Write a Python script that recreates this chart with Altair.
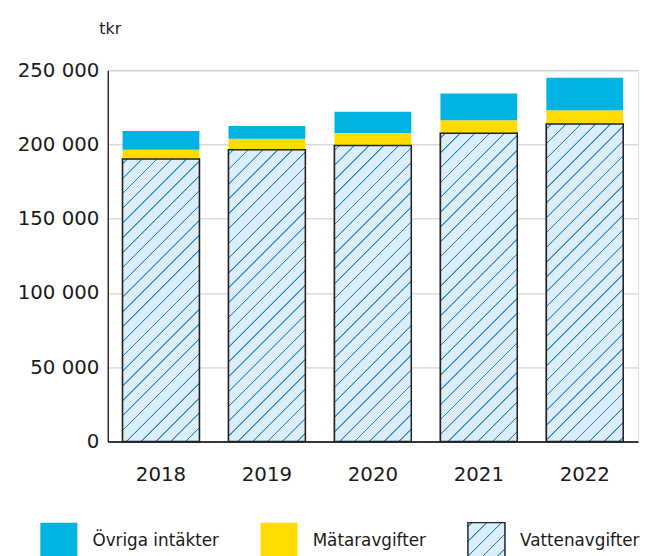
import json
import altair as alt
import pandas as pd

# ---- data ----
years = ["2018", "2019", "2020", "2021", "2022"]
vattenavgifter = [190300, 196500, 199300, 207600, 213800]
mataravgifter = [6200, 7300, 8500, 8800, 9300]
ovriga_intakter = [12600, 8600, 14300, 18000, 21900]
categories = ["Övriga intäkter", "Mätaravgifter", "Vattenavgifter"]
stack_order = ["Vattenavgifter", "Mätaravgifter", "Övriga intäkter"]
y_ticks = [0, 50000, 100000, 150000, 200000, 250000]
y_title = "tkr"

# ---- layout / style ----
W_PLOT = 537
H_PLOT = 376
Y_MAX = 250000
PAD_IN = 0.275
PAD_OUT = 0.14
BLUE = "#00b3e3"
YELLOW = "#ffdc00"
HATCH_BG = "#dbeef9"
HATCH_LINE = "#1f82c8"
EDGE = "#222222"
FONT = "DejaVu Sans"
TEXT = "#1a1a1a"

series = {
    "Vattenavgifter": vattenavgifter,
    "Mätaravgifter": mataravgifter,
    "Övriga intäkter": ovriga_intakter,
}
rows = []
for i, yr in enumerate(years):
    for k, cat in enumerate(stack_order):
        rows.append({"year": yr, "kategori": cat, "value": series[cat][i], "ordning": k})
df = pd.DataFrame(rows)


def hatch(w, h, spacing=15.0, phase=5.0, half=0.4, soft=0.6):
    """Diagonal '/' stripes as a sharp-stop linear gradient in bbox units."""
    tot = w + h
    r = tot / (w * w + h * h)
    stops = [{"offset": 0, "color": HATCH_BG}]
    c = phase
    while c < tot + spacing:
        for off, col in ((c - half - soft, HATCH_BG), (c - half, HATCH_LINE),
                         (c + half, HATCH_LINE), (c + half + soft, HATCH_BG)):
            o = min(max(off / tot, 0.0), 1.0)
            stops.append({"offset": round(o, 5), "color": col})
        c += spacing
    stops.append({"offset": 1, "color": HATCH_BG})
    return {"gradient": "linear", "x1": 0, "y1": 0,
            "x2": round(r * w, 5), "y2": round(r * h, 5), "stops": stops}


n = len(years)
step = W_PLOT / (n - PAD_IN + 2 * PAD_OUT)
bandwidth = step * (1 - PAD_IN)

conds = []
for i, yr in enumerate(years):
    h = vattenavgifter[i] / Y_MAX * H_PLOT
    conds.append({"test": f"datum.year === '{yr}'", "value": hatch(bandwidth, h)})

SYM = 37.5
legend_grad = hatch(SYM, SYM, phase=4.0)

x_enc = alt.X(
    "year:N",
    sort=years,
    scale=alt.Scale(paddingInner=PAD_IN, paddingOuter=PAD_OUT),
    axis=alt.Axis(title=None, labelAngle=0, ticks=False, grid=False,
                  domainColor="black", domainWidth=1.5, labelPadding=23,
                  labelFontSize=20, labelFont=FONT, labelColor=TEXT),
)
y_enc = alt.Y(
    "value:Q",
    stack="zero",
    scale=alt.Scale(domain=[0, Y_MAX], nice=False),
    axis=alt.Axis(values=y_ticks,
                  labelExpr="replace(format(datum.value, ','), ',', ' ')",
                  ticks=False, grid=True, gridColor="#c8c8c8", gridWidth=1,
                  domainColor="black", domainWidth=1.2, labelPadding=9,
                  labelFontSize=20, labelBaseline="middle",
                  labelFont=FONT, labelColor=TEXT,
                  title=y_title, titleAngle=0, titleX=-9, titleY=-37,
                  titleAlign="left", titleBaseline="alphabetic",
                  titleFont=FONT, titleColor=TEXT,
                  titleFontSize=16, titleFontWeight="normal"),
)

legend_def = dict(
    title=None, orient="none", legendX=-69, legendY=457, direction="horizontal",
    symbolType="square", symbolSize=SYM * SYM, symbolStrokeWidth=1.5,
    labelFontSize=17, labelOffset=14.5, columnPadding=38, padding=0,
    labelFont=FONT, labelColor=TEXT, labelBaseline="middle",
)

base = alt.Chart(df).mark_bar(strokeWidth=1.5).encode(
    x=x_enc,
    y=y_enc,
    order=alt.Order("ordning:Q", sort="ascending"),
    fill=alt.Fill("kategori:N",
                  scale=alt.Scale(domain=categories,
                                  range=[BLUE, YELLOW,
                                         alt.ExprRef(expr=json.dumps(legend_grad))]),
                  legend=alt.Legend(**legend_def)),
    stroke=alt.Stroke("kategori:N",
                      scale=alt.Scale(domain=categories,
                                      range=["transparent", "transparent", EDGE]),
                      legend=alt.Legend(**legend_def)),
)

hatched = alt.Chart(df).transform_filter(
    alt.datum.kategori == "Vattenavgifter"
).mark_bar(stroke=EDGE, strokeWidth=1.5).encode(
    x=x_enc,
    y=y_enc,
    fill={"condition": conds, "value": HATCH_BG},
)

chart = alt.layer(base, hatched).properties(
    width=W_PLOT,
    height=H_PLOT,
    autosize=alt.AutoSizeParams(type="none"),
    padding={"left": 101, "top": 59.5, "right": 2, "bottom": 120},
).configure_view(stroke=None).configure_axis(
    labelFont=FONT, titleFont=FONT, labelColor=TEXT, titleColor=TEXT,
).configure_legend(labelFont=FONT).configure(background="white", font=FONT)

chart.save("out.html", embed_options={"renderer": "svg", "actions": False})
